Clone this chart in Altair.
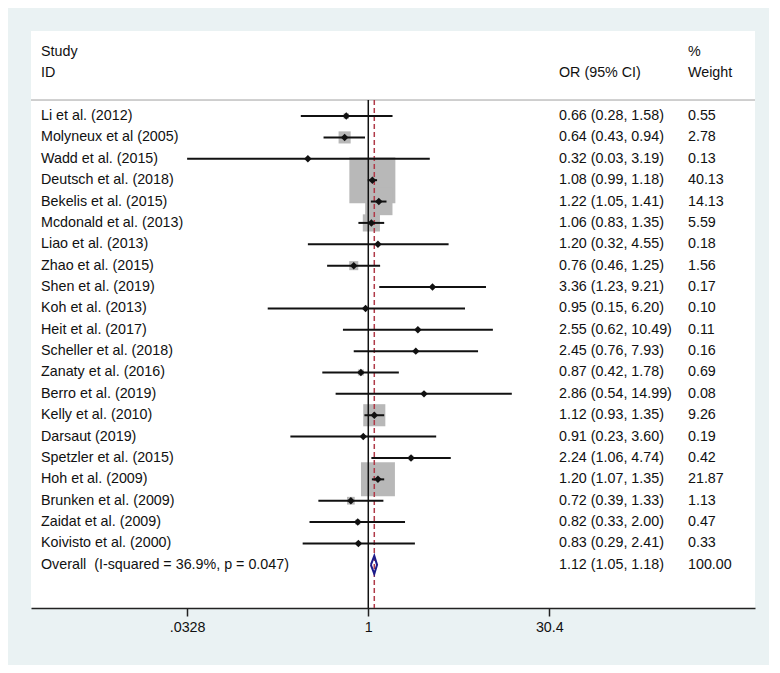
import altair as alt
import pandas as pd

studies = ["Li et al. (2012)", "Molyneux et al (2005)", "Wadd et al. (2015)", "Deutsch et al. (2018)",
           "Bekelis et al. (2015)", "Mcdonald et al. (2013)", "Liao et al. (2013)", "Zhao et al. (2015)",
           "Shen et al. (2019)", "Koh et al. (2013)", "Heit et al. (2017)", "Scheller et al. (2018)",
           "Zanaty et al. (2016)", "Berro et al. (2019)", "Kelly et al. (2010)", "Darsaut (2019)",
           "Spetzler et al. (2015)", "Hoh et al. (2009)", "Brunken et al. (2009)", "Zaidat et al. (2009)",
           "Koivisto et al. (2000)"]
or_est = [0.66, 0.64, 0.32, 1.08, 1.22, 1.06, 1.20, 0.76, 3.36, 0.95, 2.55, 2.45, 0.87, 2.86, 1.12,
          0.91, 2.24, 1.20, 0.72, 0.82, 0.83]
ci_lo = [0.28, 0.43, 0.03, 0.99, 1.05, 0.83, 0.32, 0.46, 1.23, 0.15, 0.62, 0.76, 0.42, 0.54, 0.93,
         0.23, 1.06, 1.07, 0.39, 0.33, 0.29]
ci_hi = [1.58, 0.94, 3.19, 1.18, 1.41, 1.35, 4.55, 1.25, 9.21, 6.20, 10.49, 7.93, 1.78, 14.99, 1.35,
         3.60, 4.74, 1.35, 1.33, 2.00, 2.41]
weights = [0.55, 2.78, 0.13, 40.13, 14.13, 5.59, 0.18, 1.56, 0.17, 0.10, 0.11, 0.16, 0.69, 0.08, 9.26,
           0.19, 0.42, 21.87, 1.13, 0.47, 0.33]

overall_label = "Overall \u00a0(I-squared = 36.9%, p = 0.047)"
overall_est, overall_lo, overall_hi = 1.12, 1.05, 1.18
overall_weight = "100.00"

tick_values = [0.0328, 1, 30.4]
tick_labels = [".0328", "1", "30.4"]

FONT = "Liberation Sans"
FS = 14.3
W, H = 724, 577
xmin, xmax = 0.001725, 1473
ymin, ymax = -3.98, 23.02

n = len(studies)
df = pd.DataFrame({
    "row": list(range(n)),
    "study": studies,
    "est": or_est,
    "lo": ci_lo,
    "hi": ci_hi,
    "w": weights,
})
df["lo_c"] = df["lo"].clip(lower=tick_values[0])
df["hi_c"] = df["hi"].clip(upper=tick_values[-1])
df["ortext"] = [f"{e:.2f} ({l:.2f}, {h:.2f})" for e, l, h in zip(or_est, ci_lo, ci_hi)]
df["wtext"] = [f"{w:.2f}" for w in weights]

txt = pd.DataFrame({
    "row": list(range(n)) + [n],
    "study": studies + [overall_label],
    "ortext": list(df["ortext"]) + [f"{overall_est:.2f} ({overall_lo:.2f}, {overall_hi:.2f})"],
    "wtext": list(df["wtext"]) + [overall_weight],
})

orow = n
dia = pd.DataFrame({
    "x": [overall_lo, overall_est, overall_hi, overall_est, overall_lo],
    "y": [orow, orow - 0.42, orow, orow + 0.42, orow],
    "o": [0, 1, 2, 3, 4],
})

hdr = pd.DataFrame({
    "row": [-3, -2, -2, -3, -2],
    "label": ["Study", "ID", "OR (95% CI)", "%", "Weight"],
    "col": ["a", "a", "b", "c", "c"],
})

xs = alt.Scale(type="log", domain=[xmin, xmax], nice=False, clamp=False)
ys = alt.Scale(domain=[ymax, ymin], nice=False, zero=False)

label_expr = " : ".join(
    [f"abs(datum.value - {v}) < {v} * 0.01 ? '{l}'" for v, l in zip(tick_values, tick_labels)]
) + " : ''"

base = alt.Chart(df)

squares = base.mark_square(color="#b8b8b8", opacity=1).encode(
    x=alt.X("est:Q", scale=xs, axis=alt.Axis(
        values=tick_values, labelExpr=label_expr, title=None, grid=False,
        domainColor="#222", domainWidth=1.5, tickColor="#222", tickWidth=1.5, tickSize=8,
        labelFont=FONT, labelFontSize=FS, labelColor="#111", labelPadding=4)),
    y=alt.Y("row:Q", scale=ys, axis=None),
    size=alt.Size("w:Q", scale=alt.Scale(type="linear", domain=[0, 40.13], range=[0, 2116]), legend=None),
)

hline = alt.Chart(pd.DataFrame({"r": [-0.75]})).mark_rule(color="#a0a0a0", strokeWidth=1).encode(
    y=alt.Y("r:Q", scale=ys), x=alt.value(0), x2=alt.value(W))

vline = alt.Chart(pd.DataFrame({"v": [1.0], "r": [-0.75]})).mark_rule(color="#111", strokeWidth=1.5).encode(
    x=alt.X("v:Q", scale=xs), y=alt.Y("r:Q", scale=ys), y2=alt.value(H))

dline = alt.Chart(pd.DataFrame({"v": [overall_est], "r": [-0.75]})).mark_rule(
    color="#b03a48", strokeWidth=1.5, strokeDash=[5, 3]).encode(
    x=alt.X("v:Q", scale=xs), y=alt.Y("r:Q", scale=ys), y2=alt.value(H))

ci = base.mark_rule(color="#111", strokeWidth=2).encode(
    x=alt.X("lo_c:Q", scale=xs), x2="hi_c:Q", y=alt.Y("row:Q", scale=ys))

pts = base.mark_point(shape="diamond", filled=True, color="#111", size=56, opacity=1).encode(
    x=alt.X("est:Q", scale=xs), y=alt.Y("row:Q", scale=ys))

diamond = alt.Chart(dia).mark_line(color="#1c1c8a", strokeWidth=2).encode(
    x=alt.X("x:Q", scale=xs), y=alt.Y("y:Q", scale=ys), order="o:Q")

tstudy = alt.Chart(txt).mark_text(align="left", baseline="middle", font=FONT, fontSize=FS, color="#111").encode(
    x=alt.value(10), y=alt.Y("row:Q", scale=ys), text="study:N")
tor = alt.Chart(txt).mark_text(align="left", baseline="middle", font=FONT, fontSize=FS, color="#111").encode(
    x=alt.value(528), y=alt.Y("row:Q", scale=ys), text="ortext:N")
tw = alt.Chart(txt).mark_text(align="left", baseline="middle", font=FONT, fontSize=FS, color="#111").encode(
    x=alt.value(657), y=alt.Y("row:Q", scale=ys), text="wtext:N")

hdr_a = alt.Chart(hdr[hdr.col == "a"]).mark_text(align="left", baseline="middle", font=FONT, fontSize=FS, color="#111").encode(
    x=alt.value(10), y=alt.Y("row:Q", scale=ys), text="label:N")
hdr_b = alt.Chart(hdr[hdr.col == "b"]).mark_text(align="left", baseline="middle", font=FONT, fontSize=FS, color="#111").encode(
    x=alt.value(528), y=alt.Y("row:Q", scale=ys), text="label:N")
hdr_c = alt.Chart(hdr[hdr.col == "c"]).mark_text(align="left", baseline="middle", font=FONT, fontSize=FS, color="#111").encode(
    x=alt.value(657), y=alt.Y("row:Q", scale=ys), text="label:N")

chart = alt.layer(
    squares, hline, vline, dline, ci, pts, diamond, tstudy, tor, tw, hdr_a, hdr_b, hdr_c
).properties(
    width=W, height=H,
    background="#eaf2f3",
    padding={"left": 23, "top": 23, "right": 14, "bottom": 57},
    autosize=alt.AutoSizeParams(type="none"),
).configure_view(fill="white", strokeWidth=0)

chart.save("out.html", embed_options={"renderer": "svg", "actions": False})
